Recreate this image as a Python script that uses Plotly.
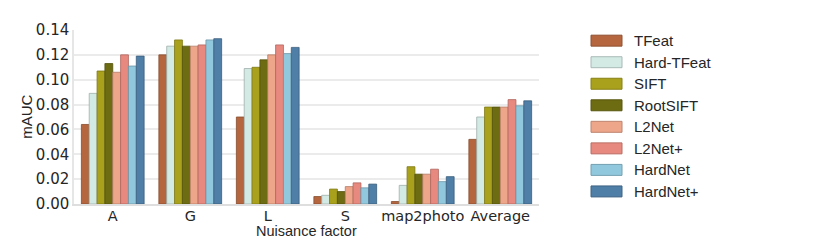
import plotly.graph_objects as go

categories = ["A", "G", "L", "S", "map2photo", "Average"]
methods = ["TFeat", "Hard-TFeat", "SIFT", "RootSIFT", "L2Net", "L2Net+", "HardNet", "HardNet+"]
tfeat = [0.064, 0.120, 0.070, 0.006, 0.002, 0.052]
hard_tfeat = [0.089, 0.127, 0.109, 0.007, 0.015, 0.070]
sift = [0.107, 0.132, 0.110, 0.012, 0.030, 0.078]
rootsift = [0.113, 0.127, 0.116, 0.010, 0.024, 0.078]
l2net = [0.106, 0.127, 0.120, 0.014, 0.024, 0.078]
l2net_plus = [0.120, 0.128, 0.128, 0.017, 0.028, 0.084]
hardnet = [0.111, 0.132, 0.121, 0.013, 0.018, 0.079]
hardnet_plus = [0.119, 0.133, 0.126, 0.016, 0.022, 0.083]
series = [tfeat, hard_tfeat, sift, rootsift, l2net, l2net_plus, hardnet, hardnet_plus]
y_ticks = [0.0, 0.02, 0.04, 0.06, 0.08, 0.10, 0.12, 0.14]

colors = ["#b5663f", "#d3e9e4", "#a9a11b", "#6e6c12", "#eea68a", "#e8897f", "#92c8dd", "#4f7ea6"]


def darker(hexcol, f=0.75):
    h = hexcol.lstrip("#")
    r, g, b = (int(h[i:i + 2], 16) for i in (0, 2, 4))
    return "rgb(%d,%d,%d)" % (r * f, g * f, b * f)


# page body has an 8px margin: the figure is drawn 8px right/down
OFF = 8
W, H = 830 - OFF, 240 - OFF
L, R, T, B = 74 - OFF, 539 - OFF, 30 - OFF, 204.5 - OFF
PW, PH = R - L, B - T


def px(x):
    return (x - OFF - L) / PW


def py(y):
    return (B - (y - OFF)) / PH


fig = go.Figure()
for name, vals, col in zip(methods, series, colors):
    fig.add_trace(go.Bar(
        x=categories, y=vals, name=name,
        marker=dict(color=col, line=dict(color=darker(col), width=0.8)),
        showlegend=False,
    ))

# legend drawn manually (wide swatches like the reference)
lx0, lx1 = 591, 622
ly0 = 40.7
dy = 21.6
for i, (name, col) in enumerate(zip(methods, colors)):
    yc = ly0 + i * dy
    fig.add_shape(type="rect", xref="paper", yref="paper",
                  x0=px(lx0), x1=px(lx1), y0=py(yc + 5.5), y1=py(yc - 5.5),
                  fillcolor=col, line=dict(color=darker(col, 0.8), width=1))
    fig.add_annotation(xref="paper", yref="paper",
                       x=px(632), y=py(yc),
                       xanchor="left", yanchor="middle", showarrow=False,
                       text=name, font=dict(family="Liberation Sans, Arial", size=15, color="#262626"))

# axis titles
fig.add_annotation(xref="paper", yref="paper", x=px(306), y=py(232),
                   xanchor="center", yanchor="middle", showarrow=False,
                   text="Nuisance factor", font=dict(family="Liberation Sans, Arial", size=14.5, color="#262626"))
fig.add_annotation(xref="paper", yref="paper", x=px(27), y=py(117),
                   xanchor="center", yanchor="middle", showarrow=False, textangle=-90,
                   text="mAUC", font=dict(family="Liberation Sans, Arial", size=15, color="#262626"))

fig.update_layout(
    width=W, height=H,
    margin=dict(l=L, r=W - R, t=T, b=H - B, autoexpand=False),
    barmode="group", bargap=0.19, bargroupgap=0,
    plot_bgcolor="white", paper_bgcolor="white",
    font=dict(family="DejaVu Sans", size=14, color="#262626"),
)
fig.update_xaxes(
    showgrid=False, showline=True, linecolor="#dedede", linewidth=2,
    ticks="", ticklen=0, ticklabelstandoff=-2, tickfont=dict(family="DejaVu Sans", size=14.5),
    range=[-0.5, 5.5], automargin=False,
)
fig.update_yaxes(
    range=[0, 0.14], tickvals=y_ticks, ticktext=["%.2f" % v for v in y_ticks],
    showgrid=True, gridcolor="#ebebeb", gridwidth=1.5, zeroline=False,
    showline=True, linecolor="#e6e6e6", linewidth=1.5,
    ticks="", ticklen=0, tickfont=dict(family="DejaVu Sans", size=15),
    automargin=False,
)

fig.write_html("out.html")
